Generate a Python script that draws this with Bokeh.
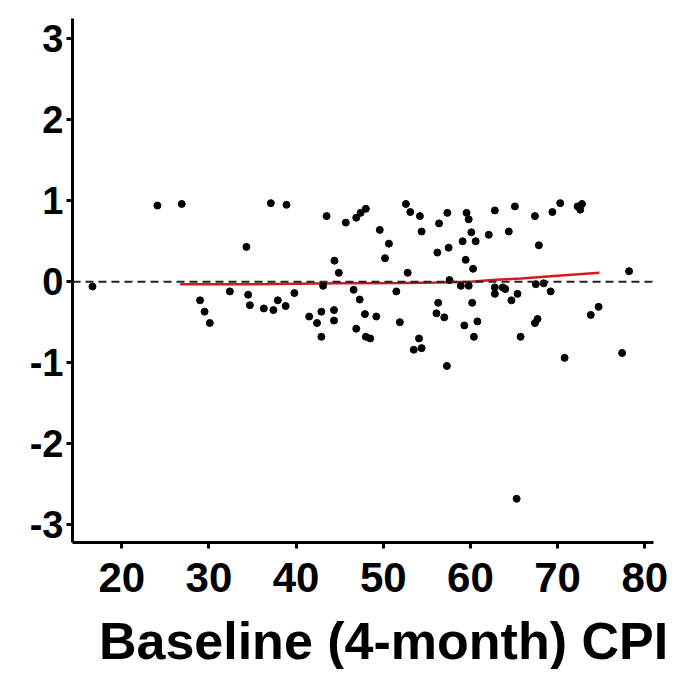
from bokeh.plotting import figure
from bokeh.layouts import column
from bokeh.models import Range1d, Span, FixedTicker
from bokeh.core.properties import value
from bokeh.embed import file_html
from bokeh.resources import INLINE

# Scatter data: baseline CPI vs. change
cpi = [24.09, 26.88, 34.3, 16.64, 28.98, 29.5, 30.1, 32.4, 34.5, 34.7,
       36.3, 37.4, 37.9, 38.8, 39.8, 37.1, 38.9, 43.5, 45.7, 46.9,
       47.4, 48.0, 49.6, 50.65, 50.2, 44.4, 44.9, 43.1, 41.5, 42.4,
       42.9, 42.9, 44.35, 44.35, 46.6, 47.3, 47.9, 46.9, 48.0, 48.5,
       49.2, 51.5, 51.9, 52.6, 53.1, 54.2, 54.4, 52.8, 56.4, 57.35,
       56.2, 57.5, 57.6, 56.3, 56.1, 57.0, 54.1, 53.5, 54.4, 57.3,
       59.56, 59.8, 62.8, 65.1, 67.4, 69.4, 70.3, 72.3, 72.8, 72.6,
       60.1, 59.1, 60.6, 62.1, 64.4, 67.85, 59.45, 60.3, 78.2, 58.9,
       59.8, 60.2, 60.8, 59.3, 60.4, 62.8, 63.7, 62.8, 64.0, 65.4,
       64.7, 67.5, 68.4, 69.2, 67.7, 67.4, 65.75, 74.7, 73.8, 70.8,
       77.4, 65.3]
change = [0.94, 0.96, 0.43, -0.06, -0.23, -0.37, -0.51, -0.12, -0.16, -0.29,
          -0.33, -0.35, -0.23, -0.30, -0.14, 0.97, 0.95, 0.81, 0.73, 0.79,
          0.85, 0.90, 0.64, 0.47, 0.29, 0.26, 0.11, -0.05, -0.43, -0.51,
          -0.37, -0.68, -0.35, -0.48, -0.10, -0.22, -0.40, -0.58, -0.68, -0.70,
          -0.43, -0.12, -0.50, 0.96, 0.86, 0.81, 0.62, 0.11, 0.72, 0.85,
          0.36, 0.42, 0.02, -0.26, -0.39, -0.44, -0.70, -0.84, -0.82, -1.04,
          0.85, 0.77, 0.88, 0.93, 0.81, 0.86, 0.97, 0.93, 0.96, 0.89,
          0.61, 0.50, 0.50, 0.58, 0.62, 0.45, 0.27, 0.16, 0.13, -0.05,
          -0.05, -0.26, -0.49, -0.54, -0.68, -0.07, -0.07, -0.15, -0.09, -0.15,
          -0.23, -0.03, -0.02, -0.12, -0.46, -0.51, -0.68, -0.31, -0.41, -0.94,
          -0.88, -2.68]

# Smoothed fit line
fit_x = [26.7, 35.0, 45.0, 52.0, 56.6, 60.0, 62.5, 65.8, 70.0, 74.8]
fit_y = [-0.03, -0.03, -0.02, -0.015, -0.01, 0.00, 0.02, 0.04, 0.075, 0.11]

x_ticks = [20, 30, 40, 50, 60, 70, 80]
y_ticks = [-3, -2, -1, 0, 1, 2, 3]
x_title = "Baseline (4-month) CPI"

font = "Liberation Sans"

p = figure(width=681, height=610, output_backend="svg", toolbar_location=None,
           x_range=Range1d(14.35, 81.0), y_range=Range1d(-3.22, 3.25),
           min_border_left=72, min_border_right=28, min_border_top=18,
           min_border_bottom=68)
p.frame_align = False
p.outline_line_color = None
p.grid.visible = False
p.background_fill_color = "white"
p.border_fill_color = "white"

zero = Span(location=0, dimension="width", line_color="#222222",
            line_width=2, line_dash="8 5")
p.add_layout(zero)

p.line(fit_x, fit_y, line_color="#d7191c", line_width=2.5)
p.scatter(cpi, change, size=7, fill_color="black", line_color="black")

p.xaxis.ticker = FixedTicker(ticks=x_ticks)
p.yaxis.ticker = FixedTicker(ticks=y_ticks)
p.yaxis.major_label_overrides = {t: str(t) for t in y_ticks}
for ax in (p.xaxis[0], p.yaxis[0]):
    ax.axis_line_width = 3
    ax.axis_line_color = "black"
    ax.major_tick_line_width = 3
    ax.major_tick_line_color = "black"
    ax.major_tick_out = 6
    ax.major_tick_in = 0
    ax.minor_tick_line_color = None
    ax.major_label_text_font = font
    ax.major_label_text_font_style = "bold"
    ax.major_label_text_color = "black"

p.yaxis.major_label_text_font_size = "38px"
p.yaxis.major_label_standoff = 3
p.xaxis.major_label_text_font_size = "42px"
p.xaxis.major_label_standoff = 14

# Axis title strip beneath the plot
t = figure(width=681, height=59, output_backend="svg", toolbar_location=None,
           x_range=Range1d(0, 681), y_range=Range1d(0, 59),
           x_axis_location=None, y_axis_location=None, min_border=0)
t.frame_align = False
t.outline_line_color = None
t.grid.visible = False
t.background_fill_color = "white"
t.border_fill_color = "white"
t.text(x=[383], y=[29], text=[x_title], text_align="center",
       text_baseline="middle", text_font=value(font),
       text_font_style="bold", text_font_size="52px", text_color="black")

layout = column(p, t, spacing=0)
open("out.html", "w").write(file_html(layout, INLINE))
